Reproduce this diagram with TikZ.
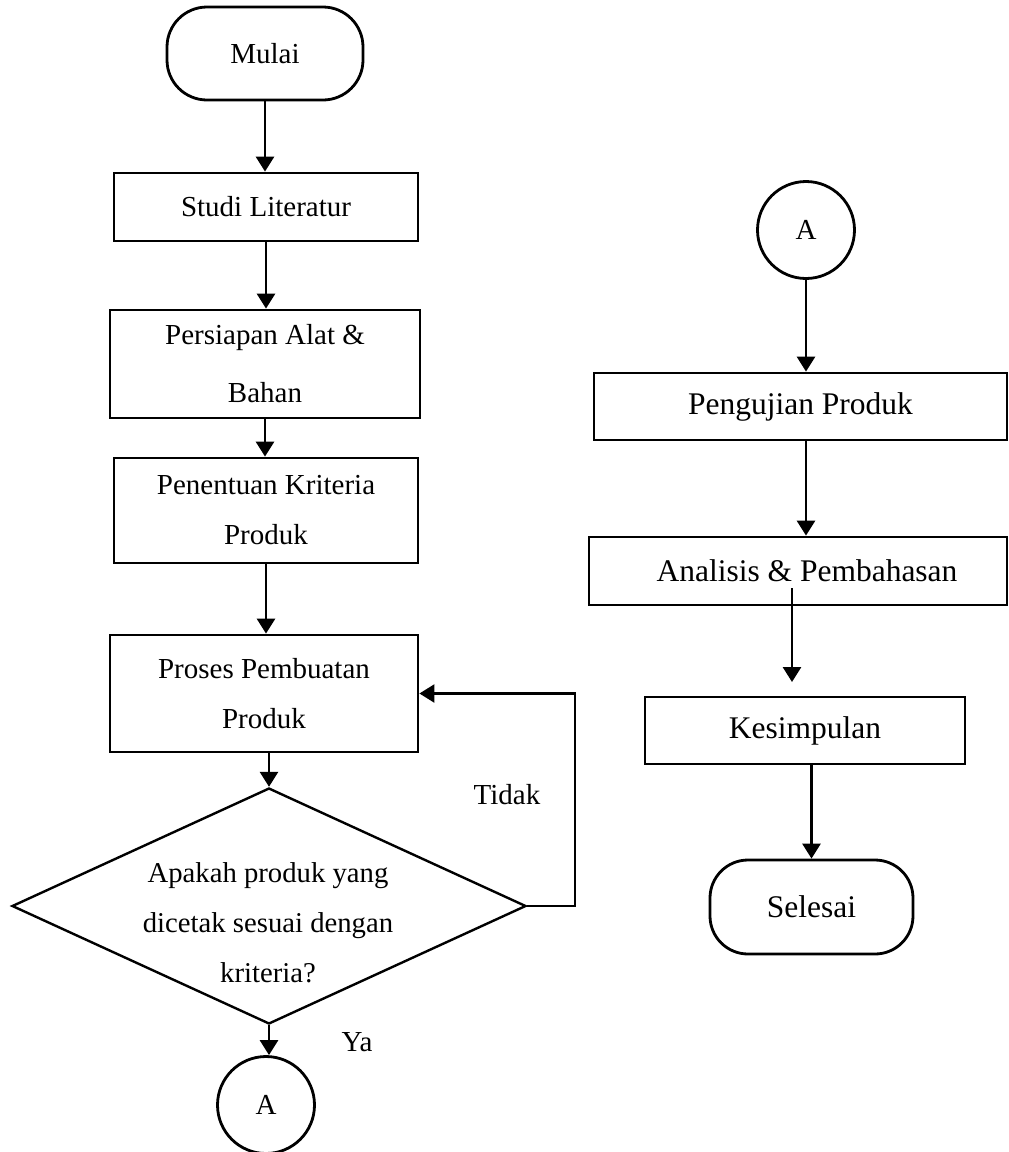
\documentclass[tikz,border=0pt]{standalone}
\usepackage{fontspec}
\setmainfont{Liberation Serif}
\usetikzlibrary{arrows.meta,shapes.geometric,calc}
\begin{document}
\begin{tikzpicture}[x=1pt,y=-1pt,
  base/.style={draw, line width=2.8pt, inner sep=0pt, align=center},
  proc/.style={base, rectangle},
  term/.style={base, rectangle, rounded corners=40pt},
  conn/.style={base, circle, minimum size=97pt},
  lfont/.style={font=\fontsize{29}{52}\selectfont},
  rfont/.style={font=\fontsize{31.5}{40}\selectfont},
  arr/.style={line width=2.8pt, -{Triangle[length=15pt,width=18pt]}},
  lbl/.style={inner sep=0pt}]
\useasboundingbox (0,0) rectangle (1009,1152);
% left column
\node[term, lfont, minimum width=196pt, minimum height=93pt] (mulai) at (265,53.5) {Mulai};
\node[proc, lfont, minimum width=304pt, minimum height=68pt] (studi) at (266,207) {Studi Literatur};
\node[proc, font=\fontsize{29}{58}\selectfont, minimum width=310pt, minimum height=108pt] (pers) at (265,364) {Persiapan Alat \&\\Bahan};
\node[proc, font=\fontsize{29}{50}\selectfont, minimum width=304pt, minimum height=105pt] (pen) at (266,510.5) {Penentuan Kriteria\\Produk};
\node[proc, font=\fontsize{29}{50}\selectfont, minimum width=308pt, minimum height=117pt] (proses) at (264,693.5) {Proses Pembuatan\\Produk};
\node[base, diamond, line width=2.4pt, minimum width=514pt, minimum height=236pt] (dec) at (269,906) {};
\node[lbl, font=\fontsize{28.7}{50}\selectfont, align=center] (dectext) at (268,923) {Apakah produk yang\\dicetak sesuai dengan\\kriteria?};
\node[conn, lfont] (a1) at (266,1105) {A};
\node[lbl, lfont] (tidak) at (507,795) {Tidak};
\node[lbl, lfont] (ya) at (357,1042) {Ya};
% right column
\node[conn, lfont] (a2) at (806,230) {A};
\node[proc, rfont, minimum width=413pt, minimum height=67pt] (peng) at (800.5,406.5) {Pengujian Produk};
\node[proc, rfont, minimum width=418pt, minimum height=68pt] (anal) at (798,571) {\hspace*{18pt}Analisis \& Pembahasan};
\node[proc, rfont, minimum width=320pt, minimum height=67pt] (kes) at (805,730.5) {Kesimpulan};
\node[term, rfont, rounded corners=38pt, minimum width=203pt, minimum height=94pt] (sel) at (811.5,907) {Selesai};
% connectors left
\draw[arr] (mulai.south) -- (mulai.south |- studi.north);
\draw[arr] (studi.south) -- (studi.south |- pers.north);
\draw[arr] (pers.south) -- (pers.south |- pen.north);
\draw[arr] (pen.south) -- (pen.south |- proses.north);
\draw[arr] (proses.south -| dec) -- (dec.north);
\draw[arr] (dec.south) -- (dec.south |- a1.north);
\coordinate (fb) at (575,906);
\draw[arr, line width=2.4pt] (dec.east) -- (fb) |- (proses.east);
% connectors right
\draw[arr] (a2.south) -- (a2.south |- peng.north);
\draw[arr] (peng.south -| a2) -- (a2 |- anal.north);
\coordinate (k1) at (792,588);
\coordinate (k2) at (792,682);
\draw[arr] (k1) -- (k2);
\draw[arr] (kes.south -| sel) -- (sel.north);
\end{tikzpicture}
\end{document}
